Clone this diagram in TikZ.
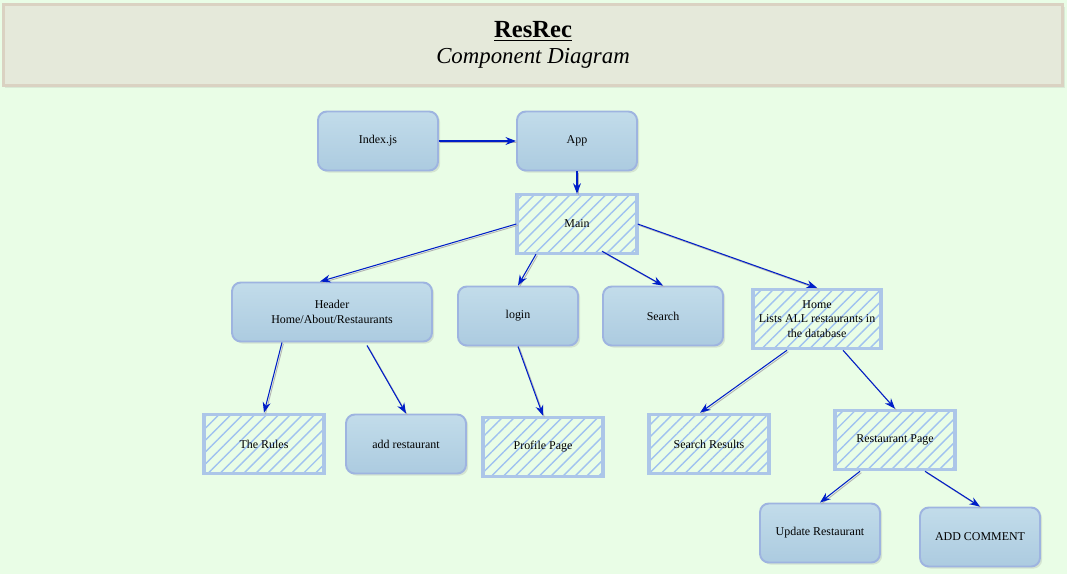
\documentclass[tikz,border=0pt]{standalone}
\usepackage{fontspec}
\setmainfont{Liberation Serif}[ItalicFont={Liberation Serif Italic},BoldFont={Liberation Serif Bold}]
\usepackage{tikz}
\usetikzlibrary{calc,arrows.meta,patterns.meta,shadows}
\definecolor{bgGreen}{RGB}{233,253,230}
\definecolor{titleFill}{RGB}{229,233,218}
\definecolor{titleLine}{RGB}{218,210,194}
\definecolor{boxTop}{RGB}{194,220,234}
\definecolor{boxBot}{RGB}{172,203,224}
\definecolor{boxLine}{RGB}{158,180,224}
\definecolor{hatchLine}{RGB}{172,198,232}
\definecolor{hatchFill}{RGB}{160,194,240}
\definecolor{arrowBlue}{RGB}{0,30,200}
\begin{document}
\begin{tikzpicture}[x=0.02cm,y=-0.02cm,
  comp/.style={draw=boxLine,line width=1.1pt,rounded corners=5pt,top color=boxTop,bottom color=boxBot,
    minimum width=2.4cm,minimum height=1.18cm,align=center,font=\fontsize{6.8}{8.3}\selectfont,
    drop shadow={opacity=0.2,shadow xshift=1.2pt,shadow yshift=-1.2pt}},
  hatchbox/.style={draw=hatchLine,line width=2pt,pattern={Lines[angle=45,distance=4.8pt,line width=0.8pt]},
    pattern color=hatchFill,minimum width=2.4cm,minimum height=1.18cm,align=center,
    font=\fontsize{6.8}{8.3}\selectfont},
  link/.style={-{Stealth[length=6pt,width=4.5pt]},draw=arrowBlue,line width=0.6pt,
    preaction={draw=black!30,-,line width=0.5pt,transform canvas={xshift=0.8pt,yshift=-0.8pt}}}]
\useasboundingbox[fill=bgGreen](0,0) rectangle (1067,574);
\node[draw=titleLine,line width=1.8pt,fill=titleFill,minimum width=21.2cm,minimum height=1.62cm,align=center,
  drop shadow={opacity=0.15,shadow xshift=1pt,shadow yshift=-1.5pt}] (title) at (533,45)
  {{\fontsize{14}{16}\selectfont\textbf{\underline{ResRec}}}\\[3pt]{\fontsize{13}{15}\selectfont\itshape Component Diagram}};
\node[comp] (idx) at (378,141) {Index.js};
\node[comp] (app) at (577,141) {App};
\node[hatchbox] (main) at (577,224) {Main};
\node[comp,minimum width=4cm] (header) at (332,312) {Header\\Home/About/Restaurants};
\node[comp] (login) at (518,316) {login};
\node[comp] (search) at (663,316) {Search};
\node[hatchbox] (home) at (817,319) {Home\\Lists ALL restaurants in\\the database};
\node[hatchbox] (rules) at (264,444) {The Rules};
\node[comp] (addrest) at (406,444) {add restaurant};
\node[hatchbox] (profile) at (543,447) {Profile Page};
\node[hatchbox] (results) at (709,444) {Search Results};
\node[hatchbox] (restpage) at (895,440) {Restaurant Page};
\node[comp] (update) at (820,533) {Update Restaurant};
\node[comp] (comment) at (980,537) {ADD COMMENT};
\draw[link](idx.east)--(app.west);
\draw[link](app.south)--(main.north);
\draw[link](main.west)--($(header.north)+(-12,0)$);
\draw[link]($(main.south)+(-41,0)$)--(login.north);
\draw[link]($(main.south)+(25,-3)$)--(search.north);
\draw[link](main.east)--(home.north);
\draw[link]($(header.south)+(-50,0)$)--(rules.north);
\draw[link]($(header.south)+(35,3)$)--(addrest.north);
\draw[link](login.south)--(profile.north);
\draw[link]($(home.south)+(-30,0)$)--($(results.north)+(-9,0)$);
\draw[link]($(home.south)+(26,0)$)--(restpage.north);
\draw[link]($(restpage.south)+(-35,0)$)--(update.north);
\draw[link]($(restpage.south)+(30,0)$)--(comment.north);
\end{tikzpicture}
\end{document}
